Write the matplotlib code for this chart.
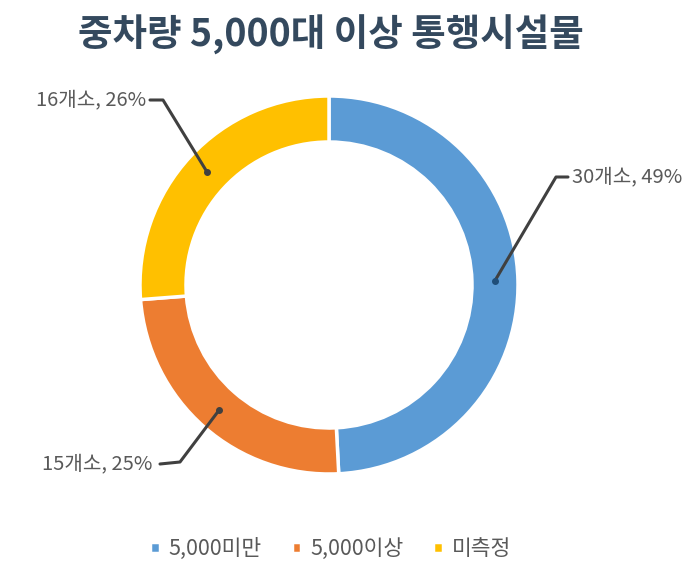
import numpy as np
import matplotlib
matplotlib.use("Agg")
import matplotlib.pyplot as plt

plt.rcParams['font.family'] = ['Noto Sans CJK KR', 'DejaVu Sans']

# Data
categories = ['5,000미만', '5,000이상', '미측정']
counts = [30, 15, 16]
colors = ['#5B9BD5', '#ED7D31', '#FFC000']
title = '중차량 5,000대 이상 통행시설물'

total = sum(counts)
percents = [round(c / total * 100) for c in counts]
labels = [f'{c}개소, {p}%' for c, p in zip(counts, percents)]

W, H = 700, 570
fig = plt.figure(figsize=(W / 100, H / 100), dpi=100)
ax = fig.add_axes([0, 0, 1, 1])

cx, cy = 329, H - 285
R = 189
ring = 46

wedges, _ = ax.pie(counts, colors=colors, startangle=90, counterclock=False,
                   center=(cx, cy), radius=R,
                   wedgeprops=dict(width=ring, edgecolor='white', linewidth=2.5))

ax.set_xlim(0, W)
ax.set_ylim(0, H)
ax.set_aspect('equal')
ax.axis('off')

# Leader line elbows and label anchors (pixel layout, y measured from top)
elbows = [(556, 177), (180, 462), (163, 100)]
tails = [(568, 177), (160, 464), (150, 100)]
text_pos = [(572, 'left'), (152, 'right'), (146, 'right')]

line_color = '#404040'
text_color = '#595959'
for w, lab, (ex, ey), (tx, ty), (xt, ha) in zip(wedges, labels, elbows, tails, text_pos):
    ang = np.deg2rad((w.theta1 + w.theta2) / 2)
    rm = R - ring / 2
    px, py = cx + rm * np.cos(ang), cy + rm * np.sin(ang)
    ax.plot([px, ex, tx], [py, H - ey, H - ty], color=line_color, lw=2.2,
            solid_capstyle='round', zorder=5)
    ax.plot([px], [py], 'o', color='#1f4e79' if w is wedges[0] else line_color,
            ms=4, zorder=6)
    ax.text(xt, H - ty, lab, ha=ha, va='center', fontsize=14.5, color=text_color)

fig.text(0.472, 1 - 35 / H, title, ha='center', va='center', fontsize=27,
         fontweight='bold', color='#34495e')

fig.legend(wedges, categories, loc='center', bbox_to_anchor=(0.472, 1 - 549 / H),
           ncol=3, frameon=False, fontsize=15.5, labelcolor=text_color,
           handlelength=0.45, handleheight=0.45, handletextpad=0.4, columnspacing=1.4)

fig.savefig('out.png', dpi=100, facecolor='white')
